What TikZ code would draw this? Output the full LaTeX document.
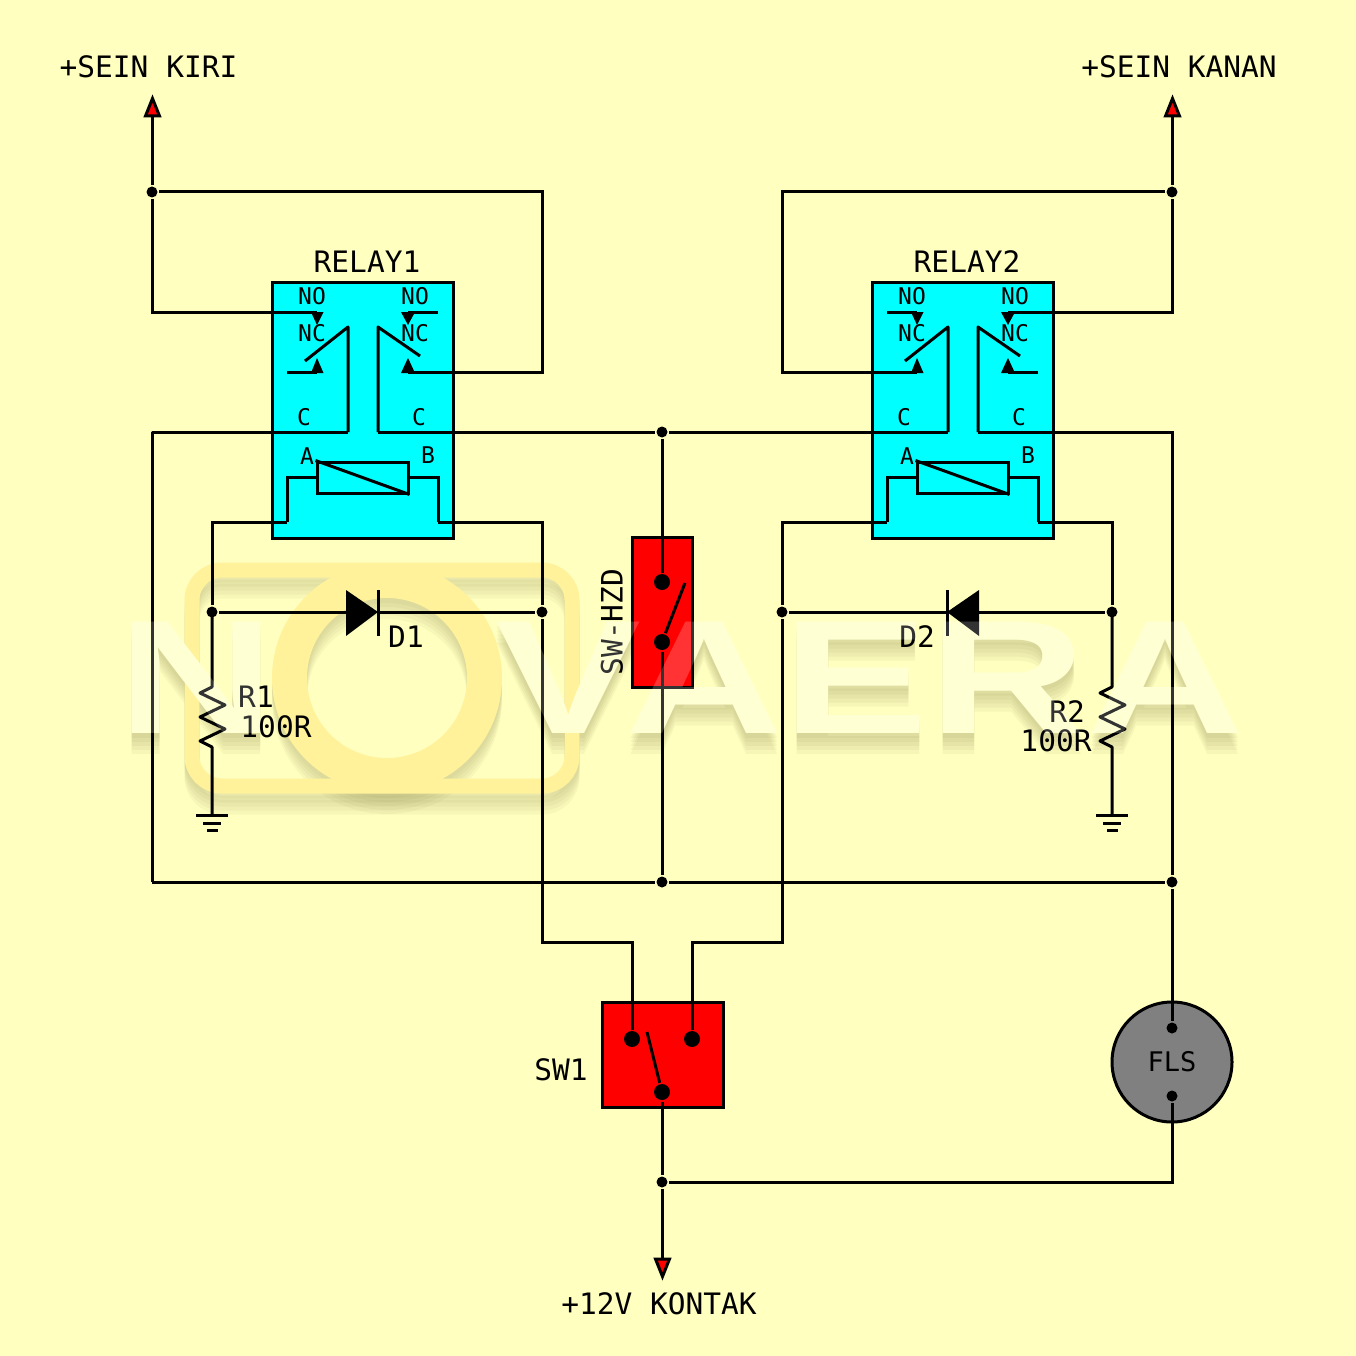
\documentclass[tikz,border=0pt]{standalone}
\usepackage{fontspec}
\setmainfont{DejaVu Sans Mono}
\newfontfamily\wmfont{Liberation Sans}
\definecolor{paper}{HTML}{FFFFC0}
\definecolor{relaycyan}{HTML}{00FFFF}
\definecolor{logoyellow}{HTML}{FFF29A}
\definecolor{wmpale}{HTML}{FFFFCA}
\definecolor{wmshade}{HTML}{706C30}
\tikzset{
  junct/.style={circle, fill=black, inner sep=0pt, minimum size=11pt},
  contact/.style={circle, fill=black, inner sep=0pt, minimum size=16pt},
  relaybox/.style={draw, fill=relaycyan, inner sep=0pt, minimum width=181pt, minimum height=256pt},
  coil/.style={draw, inner sep=0pt, minimum width=91pt, minimum height=31pt},
  swbox/.style={draw, fill=red, inner sep=0pt},
  smalltxt/.style={inner sep=0pt, font=\fontsize{23}{23}\selectfont},
  txtlabel/.style={inner sep=0pt, font=\fontsize{29.5}{29.5}\selectfont},
  wmark/.style={inner sep=0pt, font=\wmfont\bfseries\fontsize{162}{162}\selectfont}}
\begin{document}
\begin{tikzpicture}[x=1pt, y=-1pt, line width=3pt]
\useasboundingbox[fill=paper] (0,0) rectangle (1356,1356);

\foreach \sh in {5, 9, 13, 17, 21} {
  \node[wmark, text=wmshade, text opacity=.06] (wmsv\sh) at (870,678+\sh) {\scalebox{1.35}[1]{VAERA}};
  \node[wmark, text=wmshade, text opacity=.06] (wmsn\sh) at (196,678+\sh) {\scalebox{1.35}[1]{N}};
  \draw[line width=15pt, rounded corners=30pt, wmshade, opacity=.05] (192,570+\sh) rectangle (572,786+\sh);
  \draw[line width=35pt, wmshade, opacity=.05] (387,678+\sh) circle (97.5);
}
\draw[line width=15pt, rounded corners=30pt, logoyellow] (192,570) rectangle (572,786);
\node[wmark, text=wmpale] (wmv) at (870,678) {\scalebox{1.35}[1]{VAERA}};
\node[wmark, text=wmpale] (wmn) at (196,678) {\scalebox{1.35}[1]{N}};
\draw[line width=35pt, logoyellow] (387,678) circle (97.5);

\foreach \k/\dx in {1/0, 2/600} {
  \begin{scope}[xshift=\dx pt]
    \node[relaybox] (relay\k) at (362.5,410) {};
    \node[txtlabel] (relaylabel\k) at (367,262) {RELAY\k};
    \node[smalltxt] (nol\k) at (312,296) {NO};
    \node[smalltxt] (nor\k) at (415,296) {NO};
    \node[smalltxt] (ncl\k) at (312,333) {NC};
    \node[smalltxt] (ncr\k) at (415,333) {NC};
    \node[smalltxt] (cl\k) at (304,417) {C};
    \node[smalltxt] (cr\k) at (419,417) {C};
    \node[smalltxt] (a\k) at (307,456) {A};
    \node[smalltxt] (b\k) at (428,455) {B};
    \coordinate (tnol\k) at (317,312);
    \coordinate (tnor\k) at (408,312);
    \coordinate (tncl\k) at (317,372);
    \coordinate (tncr\k) at (408,372);
    \coordinate (sl\k) at (287,312);
    \coordinate (sr\k) at (438,312);
    \coordinate (ul\k) at (287,372);
    \coordinate (ur\k) at (438,372);
    \coordinate (cwl\k) at (348,432);
    \coordinate (cwr\k) at (378,432);
    \coordinate (cal\k) at (287,522);
    \coordinate (cbr\k) at (438,522);
    \fill (311,312) -- (323.5,312) -- (317,325) -- cycle;
    \fill (401,312) -- (415,312) -- (408,325) -- cycle;
    \fill (311,373) -- (323.5,373) -- (317,358) -- cycle;
    \fill (401,373) -- (415,373) -- (408,358) -- cycle;
    \draw[line join=round] (305,361) -- (348,327) -- (cwl\k);
    \draw[line join=round] (420,356) -- (378,327) -- (cwr\k);
    \node[coil] (coil\k) at (362.5,477.5) {};
    \draw (coil\k.north west) -- (coil\k.south east);
    \draw (coil\k.west) -| (287,522);
    \draw (coil\k.east) -| (438,522);
  \end{scope}
}
\draw (sr1) -- (tnor1) (ul1) -- (tncl1) (sl2) -- (tnol2) (ur2) -- (tncr2);

\node[swbox, minimum width=60pt, minimum height=150pt] (hzd) at (662,612) {};
\node[swbox, minimum width=121pt, minimum height=105pt] (sw1) at (662.5,1054.5) {};
\node[draw, circle, fill=gray, inner sep=0pt, minimum size=120pt, font=\fontsize{27}{27}\selectfont] (fls) at (1172,1062) {FLS};

\node[contact] (hzdtop) at (662,582) {};
\node[contact] (hzdbot) at (662,642) {};
\node[contact] (swl) at (632,1039) {};
\node[contact] (swr) at (692,1039) {};
\node[contact] (swc) at (662,1092) {};
\node[junct] (flstop) at (1172,1028) {};
\node[junct] (flsbot) at (1172,1096) {};
\node[junct] (jsein1) at (152,192) {};
\node[junct] (jsein2) at (1172,192) {};
\node[junct] (jc) at (662,432) {};
\node[junct] (jd1a) at (212,612) {};
\node[junct] (jd1k) at (542,612) {};
\node[junct] (jd2k) at (782,612) {};
\node[junct] (jd2a) at (1112,612) {};
\node[junct] (jbm) at (662,882) {};
\node[junct] (jbr) at (1172,882) {};
\node[junct] (jv) at (662,1182) {};

\coordinate (jbl) at (152,882);
\coordinate (arml) at (152,117);
\coordinate (armr) at (1172,117);
\coordinate (armv) at (662,1258);
\draw[fill=red] (145.5,116) -- (159.5,116) -- (152.5,98.5) -- cycle;
\draw[fill=red] (1165.5,116) -- (1179.5,116) -- (1172.5,98.5) -- cycle;
\draw[fill=red] (655.5,1259) -- (669.5,1259) -- (662.5,1276.5) -- cycle;

\draw (arml) -- (jsein1) |- (tnol1);
\draw (jsein1) -| (542,372) -- (tncr1);
\draw (armr) -- (jsein2) |- (tnor2);
\draw (jsein2) -| (782,372) -- (tncl2);
\draw[line join=round] (jbl) |- (cwl1);
\draw (cwr1) -- (jc) -- (cwl2);
\draw (cwr2) -| (jbr) -- (flstop);
\draw (jbl) -- (jbm) -- (jbr);
\draw (jc) -- (hzdtop);
\draw (hzdbot) -- (jbm);
\draw (hzdbot) -- (685,583);
\draw (cal1) -| (jd1a);
\draw (cbr1) -| (jd1k);
\draw (jd1k) |- (632,942) -- (swl);
\draw (cal2) -| (jd2k);
\draw (jd2k) |- (692,942) -- (swr);
\draw (cbr2) -| (jd2a);
\draw (swc) -- (647,1032);
\draw (swc) -- (jv) -- (armv);
\draw (jv) -| (flsbot);

\draw (jd1a) -- (346,612) (378,612) -- (jd1k);
\fill (346,590) -- (378,612) -- (346,636) -- cycle;
\draw (378,590) -- (378,636);
\draw (jd2k) -- (947,612) (979,612) -- (jd2a);
\fill (979,590) -- (947,612) -- (979,636) -- cycle;
\draw (947,590) -- (947,636);

\foreach \gx in {212, 1112} {
  \coordinate (gnd\gx) at (\gx,815);
  \draw[line join=round] (\gx,612) -- (\gx,687) -- ++(-12,6) -- ++(25,12) -- ++(-25,12) -- ++(25,12) -- ++(-25,12) -- ++(12,6) -- (gnd\gx);
  \draw (\gx-16,815) -- (\gx+16,815);
  \draw (\gx-9,823) -- (\gx+9,823);
  \draw (\gx-5,830) -- (\gx+6,830);
}

\node[txtlabel] (kiri) at (148.5,67) {+SEIN KIRI};
\node[txtlabel] (kanan) at (1179,67) {+SEIN KANAN};
\node[txtlabel] (kontak) at (659,1304) {+12V KONTAK};
\node[txtlabel] (swlabel) at (561,1070) {SW1};
\node[txtlabel, rotate=90] (hzdlabel) at (612,622) {SW-HZD};
\node[txtlabel] (d1) at (406,637) {D1};
\node[txtlabel] (d2) at (917,637) {D2};
\node[txtlabel] (r1) at (256,697) {R1};
\node[txtlabel] (r1val) at (276,727) {100R};
\node[txtlabel] (r2) at (1067,712) {R2};
\node[txtlabel] (r2val) at (1056,741) {100R};

\node[wmark, text=white, text opacity=.2] (wmtopv) at (870,678) {\scalebox{1.35}[1]{VAERA}};
\node[wmark, text=white, text opacity=.2] (wmtopn) at (196,678) {\scalebox{1.35}[1]{N}};
\end{tikzpicture}
\end{document}
